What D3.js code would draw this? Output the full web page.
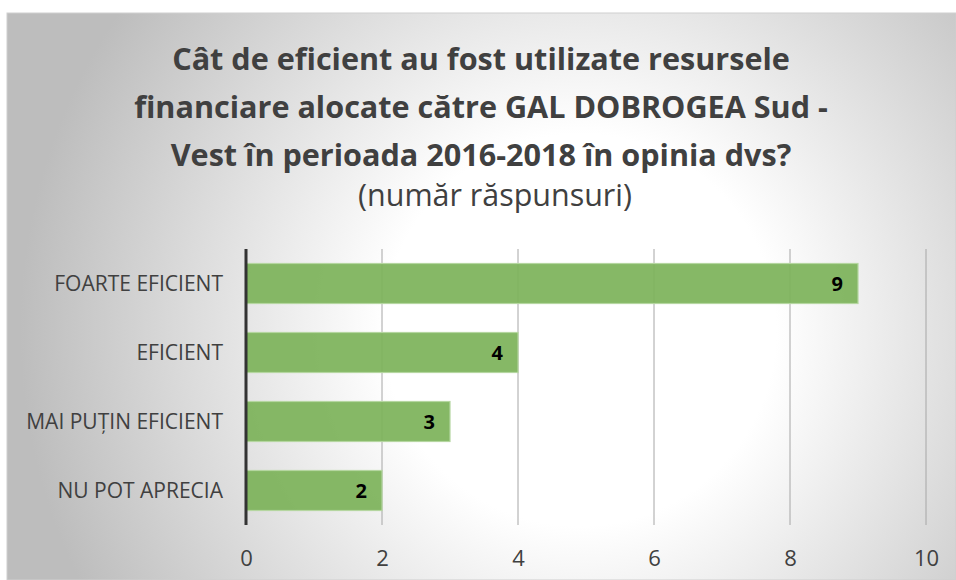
<!DOCTYPE html>
<html>
<head>
<meta charset="utf-8">
<script src="https://cdn.jsdelivr.net/npm/d3@7"></script>
<style>
  body { margin: 0; background: #fff; }
  svg { display: block; }
</style>
</head>
<body>
<div id="chart"></div>
<script>
// data
const categories = ["FOARTE EFICIENT", "EFICIENT", "MAI PUȚIN EFICIENT", "NU POT APRECIA"];
const values = [9, 4, 3, 2];
const xTicks = [0, 2, 4, 6, 8, 10];
const titleLines = [
  "Cât de eficient au fost utilizate resursele",
  "financiare alocate către GAL DOBROGEA Sud -",
  "Vest în perioada 2016-2018 în opinia dvs?"
];
const subtitle = "(număr răspunsuri)";

const W = 956, H = 580;
const font = "'Open Sans', sans-serif";

let svg = d3.select("#chart").append("svg")
  .attr("width", W)
  .attr("height", H);

// radial background like the office chart
let defs = svg.append("defs");
let grad = defs.append("radialGradient")
  .attr("id", "bg")
  .attr("gradientUnits", "userSpaceOnUse")
  .attr("cx", 580).attr("cy", 330).attr("r", 560);
grad.append("stop").attr("offset", "0%").attr("stop-color", "#ffffff");
grad.append("stop").attr("offset", "35%").attr("stop-color", "#ffffff");
grad.append("stop").attr("offset", "100%").attr("stop-color", "#bdbdbd");

svg.append("rect")
  .attr("x", 7).attr("y", 13)
  .attr("width", W - 7).attr("height", H - 13)
  .attr("fill", "url(#bg)")
  .attr("stroke", "#cfcfcf")
  .attr("stroke-width", 1);

// scale a text's font size so it spans the wanted width
function fitSize(str, weight, base, target) {
  let t = svg.append("text").style("font", weight + " " + base + "px " + font).text(str);
  let w = t.node().getComputedTextLength();
  t.remove();
  return base * target / w;
}

let margin = { top: 249, left: 246, right: 30, bottom: 55 };
let width = 926 - margin.left;
let height = 525 - margin.top;

let x = d3.scaleLinear().domain([0, 10]).range([0, width]);
let y = d3.scaleBand().domain(categories).range([0, height]).paddingInner(0.42).paddingOuter(0.21);

let g = svg.append("g").attr("transform", "translate(" + margin.left + "," + margin.top + ")");

// gridlines
g.append("g").selectAll("line")
  .data(xTicks.slice(1))
  .enter().append("line")
  .attr("x1", d => x(d)).attr("x2", d => x(d))
  .attr("y1", 0).attr("y2", height)
  .attr("stroke", "#a6a6a6")
  .attr("stroke-width", 1);

// bars
g.selectAll(".bar")
  .data(values)
  .enter().append("rect")
  .attr("class", "bar")
  .attr("x", 0)
  .attr("y", (d, i) => y(categories[i]))
  .attr("width", d => x(d))
  .attr("height", y.bandwidth())
  .attr("fill", "#7db35a")
  .attr("fill-opacity", 0.93)
  .attr("stroke", "#b5d6a0")
  .attr("stroke-width", 1.2);

// value labels
g.selectAll(".val")
  .data(values)
  .enter().append("text")
  .attr("x", d => x(d) - 15)
  .attr("y", (d, i) => y(categories[i]) + y.bandwidth() / 2)
  .attr("dy", "0.36em")
  .attr("text-anchor", "end")
  .style("font", "bold 20px " + font)
  .attr("fill", "#000")
  .text(d => d);

let labelSize = fitSize("MAI PUȚIN EFICIENT", "normal", 18, 197);

// y axis
let yAxis = g.append("g")
  .call(d3.axisLeft(y).tickSize(0).tickPadding(23));
yAxis.select(".domain").remove();
yAxis.selectAll("text")
  .style("font", labelSize + "px " + font)
  .attr("dy", "0.36em")
  .attr("fill", "#404040");

g.append("line")
  .attr("x1", 0).attr("x2", 0)
  .attr("y1", 0).attr("y2", height)
  .attr("stroke", "#333")
  .attr("stroke-width", 3);

// x axis
let xAxis = g.append("g")
  .attr("transform", "translate(0," + height + ")")
  .call(d3.axisBottom(x).tickValues(xTicks).tickSize(0).tickPadding(25));
xAxis.select(".domain").remove();
xAxis.selectAll("text")
  .style("font", (labelSize + 1) + "px " + font)
  .attr("fill", "#404040");

// title
let titleSize = fitSize(titleLines[0], "bold", 29, 618);
let title = svg.append("g").attr("text-anchor", "middle");
title.selectAll("text")
  .data(titleLines)
  .enter().append("text")
  .attr("x", 481)
  .attr("y", (d, i) => 70 + i * 48)
  .style("font", "bold " + titleSize + "px " + font)
  .attr("fill", "#404040")
  .text(d => d);

let subSize = fitSize(subtitle, "normal", 29, 274);
title.append("text")
  .attr("x", 495)
  .attr("y", 206)
  .style("font", subSize + "px " + font)
  .attr("fill", "#404040")
  .text(subtitle);
</script>
</body>
</html>
